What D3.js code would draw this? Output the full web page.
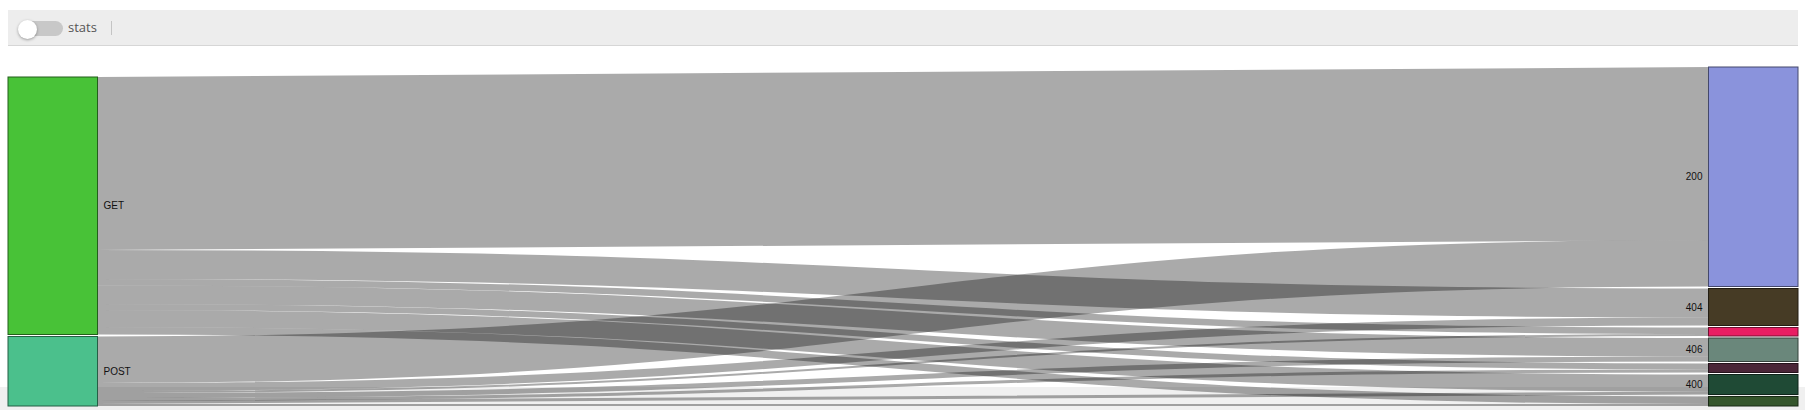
<!DOCTYPE html>
<html>
<head>
<meta charset="utf-8">
<script src="https://cdn.jsdelivr.net/npm/d3@7"></script>
<style>
  html, body { margin: 0; padding: 0; background: #fff; width: 1805px; height: 410px; overflow: hidden; }
  #bottomband { position: absolute; left: 0; top: 387px; width: 1805px; height: 23px; background: #f0f0f0; }
  #header { position: absolute; left: 8px; top: 10px; width: 1790px; height: 35px; background: #ededed; border-bottom: 1.5px solid #d6d6d6; }
  #track { position: absolute; left: 12px; top: 11px; width: 43px; height: 15px; border-radius: 8px; background: #c8c8c8; }
  #knob { position: absolute; left: 9.5px; top: 9.5px; width: 19px; height: 19px; border-radius: 50%; background: #fff; box-shadow: 0 1px 3px rgba(0,0,0,0.35); }
  #statslabel { position: absolute; left: 60px; top: 8px; font-family: "Open Sans", sans-serif; font-size: 13px; color: #555; }
  #sep { position: absolute; left: 103px; top: 11px; width: 1px; height: 14px; background: #c4c4c4; }
  svg { position: absolute; left: 0; top: 0; }
</style>
</head>
<body>
<div id="bottomband"></div>
<div id="header">
  <div id="track"></div>
  <div id="knob"></div>
  <div id="statslabel">stats</div>
  <div id="sep"></div>
</div>
<svg id="chart" width="1805" height="410"></svg>
<script>
// ---- data ----
const sources = ["GET", "POST"];
const targets = ["200", "404", "500", "406", "401", "400", "403"];
const getValues  = [1730, 290, 65, 185, 60, 170, 75];
const postValues = [465, 80, 20, 50, 30, 30, 20];
const sourceColors = ["#48c237", "#4bc08c"];
const targetColors = ["#8a93dc", "#463b25", "#e91e63", "#6a877b", "#4a2638", "#1f4a35", "#34552b"];

// ---- build graph ----
const seriesBySource = [getValues, postValues];
const links = [];
sources.forEach((s, si) => {
  targets.forEach((t, ti) => {
    links.push({ si, ti, value: seriesBySource[si][ti] });
  });
});

const extent = { x0: 8, x1: 1798, y0: 67, y1: 406 };
const nodeWidth = 89.5;
const pad = 2;

const srcNodes = sources.map((name, i) => ({
  name, color: sourceColors[i],
  value: d3.sum(seriesBySource[i])
}));
const tgtNodes = targets.map((name, i) => ({
  name, color: targetColors[i],
  value: d3.sum(seriesBySource, s => s[i])
}));

const total = d3.sum(tgtNodes, d => d.value);
const ky = d3.scaleLinear()
  .domain([0, total])
  .range([0, (extent.y1 - extent.y0) - (tgtNodes.length - 1) * pad]);

// right column: top aligned
let y = extent.y0;
tgtNodes.forEach(n => {
  n.x0 = extent.x1 - nodeWidth; n.x1 = extent.x1;
  n.y0 = y; n.y1 = y + ky(n.value); y = n.y1 + pad;
});
// left column: bottom aligned
const leftH = d3.sum(srcNodes, d => ky(d.value)) + (srcNodes.length - 1) * pad;
y = extent.y1 - leftH;
srcNodes.forEach(n => {
  n.x0 = extent.x0; n.x1 = extent.x0 + nodeWidth;
  n.y0 = y; n.y1 = y + ky(n.value); y = n.y1 + pad;
});

// link positions
links.forEach(l => { l.source = srcNodes[l.si]; l.target = tgtNodes[l.ti]; l.width = ky(l.value); });
srcNodes.forEach((n, i) => {
  let yy = n.y0;
  links.filter(l => l.si === i).sort((a, b) => a.target.y0 - b.target.y0)
    .forEach(l => { l.y0 = yy + l.width / 2; yy += l.width; });
});
tgtNodes.forEach((n, i) => {
  let yy = n.y0;
  links.filter(l => l.ti === i).sort((a, b) => a.source.y0 - b.source.y0)
    .forEach(l => { l.y1 = yy + l.width / 2; yy += l.width; });
});

// ---- draw ----
const svg = d3.select("#chart");
const linkGen = d3.linkHorizontal()
  .source(d => [d.source.x1, d.y0])
  .target(d => [d.target.x0, d.y1]);

svg.append("g")
  .attr("fill", "none")
  .attr("stroke", "#000")
  .attr("stroke-opacity", 0.333)
  .selectAll("path")
  .data(links)
  .join("path")
  .attr("d", linkGen)
  .attr("stroke-width", d => Math.max(1, d.width));

const allNodes = srcNodes.concat(tgtNodes);
svg.append("g")
  .selectAll("rect")
  .data(allNodes)
  .join("rect")
  .attr("x", d => d.x0)
  .attr("y", d => d.y0)
  .attr("width", d => d.x1 - d.x0)
  .attr("height", d => d.y1 - d.y0)
  .attr("fill", d => d.color)
  .attr("stroke", d => d3.rgb(d.color).darker(2))
  .attr("stroke-width", 1);

svg.append("g")
  .attr("font-family", "Arial, 'Liberation Sans', sans-serif")
  .attr("font-size", 10)
  .attr("fill", "#111")
  .selectAll("text")
  .data(allNodes.filter(d => d.y1 - d.y0 > 15))
  .join("text")
  .attr("x", d => d.x0 < 900 ? d.x1 + 6 : d.x0 - 6)
  .attr("y", d => (d.y0 + d.y1) / 2)
  .attr("dy", "0.35em")
  .attr("text-anchor", d => d.x0 < 900 ? "start" : "end")
  .text(d => d.name);
</script>
</body>
</html>
